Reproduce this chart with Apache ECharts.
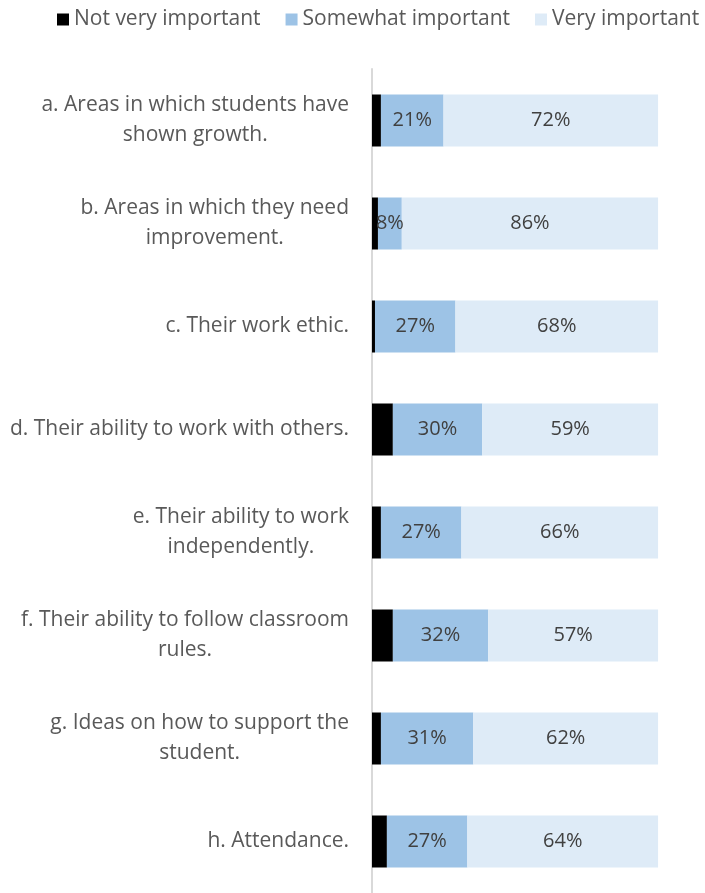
<!DOCTYPE html>
<html>
<head>
<meta charset="utf-8">
<script src="https://cdn.jsdelivr.net/npm/echarts@6/dist/echarts.min.js"></script>
<style>
  html, body { margin: 0; padding: 0; background: #fff; }
  #chart { width: 705px; height: 893px; }
</style>
</head>
<body>
<div id="chart"></div>
<script>
// Survey items (top to bottom)
const categories = [
  'a. Areas in which students have\nshown growth.',
  'b. Areas in which they need\nimprovement.',
  'c. Their work ethic.',
  'd. Their ability to work with others.',
  'e. Their ability to work\nindependently.',
  'f. Their ability to follow classroom\nrules.',
  'g. Ideas on how to support the\nstudent.',
  'h. Attendance.'
];
const seriesNames = ['Not very important', 'Somewhat important', 'Very important'];
const notVeryImportant = [3, 2, 1, 7, 3, 7, 3, 5];
const somewhatImportant = [21, 8, 27, 30, 27, 32, 31, 27];
const veryImportant = [72, 86, 68, 59, 66, 57, 62, 64];

const FONT = '"Open Sans", "DejaVu Sans", sans-serif';
const colors = ['#000000', '#9dc3e6', '#deebf7'];

const chart = echarts.init(document.getElementById('chart'));

const pctLabel = {
  show: true,
  position: 'inside',
  formatter: p => p.value + '%',
  color: '#404040',
  fontFamily: FONT,
  fontSize: 20
};

chart.setOption({
  animation: false,
  color: colors,
  legend: {
    data: seriesNames,
    left: 52,
    top: 4,
    width: 760,
    icon: 'rect',
    itemWidth: 12,
    itemHeight: 12,
    itemGap: 25,
    textStyle: { color: '#595959', fontFamily: FONT, fontSize: 21 }
  },
  grid: { left: 372, right: 35, top: 69, height: 826 },
  xAxis: {
    type: 'value',
    min: 0,
    max: 100,
    show: false,
    splitLine: { show: false }
  },
  yAxis: {
    type: 'category',
    inverse: true,
    data: categories,
    axisTick: { show: false },
    axisLine: { show: true, lineStyle: { color: '#d9d9d9', width: 2 } },
    axisLabel: {
      margin: 23,
      formatter: v => v.split('\n').map(s => '{c|' + s + '}').join('\n'),
      rich: {
        c: {
          align: 'center',
          color: '#595959',
          fontFamily: FONT,
          fontSize: 21,
          lineHeight: 30
        }
      }
    }
  },
  series: [
    {
      name: seriesNames[0],
      type: 'bar',
      stack: 'total',
      barWidth: 52,
      data: notVeryImportant,
      label: { show: false }
    },
    {
      name: seriesNames[1],
      type: 'bar',
      stack: 'total',
      barWidth: 52,
      data: somewhatImportant,
      label: pctLabel
    },
    {
      name: seriesNames[2],
      type: 'bar',
      stack: 'total',
      barWidth: 52,
      data: veryImportant,
      label: pctLabel
    }
  ]
});
</script>
</body>
</html>
